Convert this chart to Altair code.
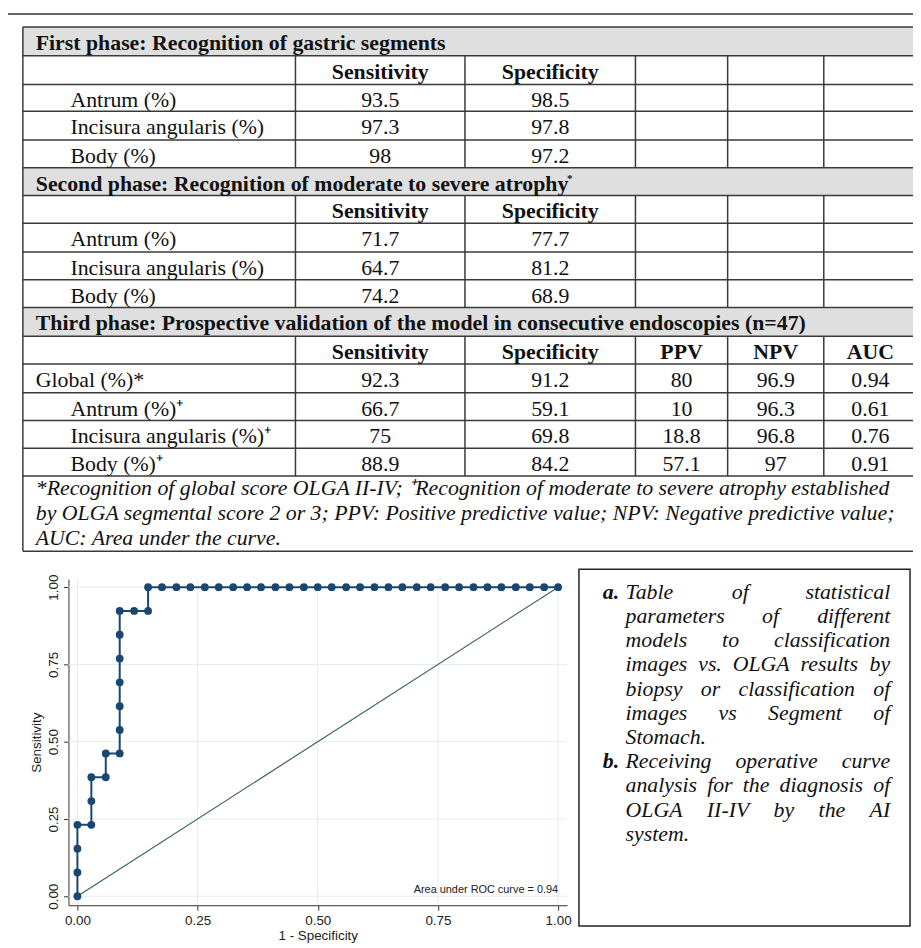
import altair as alt
import pandas as pd

# ---------------- data ----------------
phase_titles = [
    "First phase: Recognition of gastric segments",
    "Second phase: Recognition of moderate to severe atrophy",
    "Third phase: Prospective validation of the model in consecutive endoscopies (n=47)",
]
metric_names = ["Sensitivity", "Specificity", "PPV", "NPV", "AUC"]
segments = ["Antrum (%)", "Incisura angularis (%)", "Body (%)"]
p1_sens = ["93.5", "97.3", "98"]
p1_spec = ["98.5", "97.8", "97.2"]
p2_sens = ["71.7", "64.7", "74.2"]
p2_spec = ["77.7", "81.2", "68.9"]
p3_labels = ["Global (%)*", "Antrum (%)\u207a", "Incisura angularis (%)\u207a", "Body (%)\u207a"]
p3_sens = ["92.3", "66.7", "75", "88.9"]
p3_spec = ["91.2", "59.1", "69.8", "84.2"]
p3_ppv = ["80", "10", "18.8", "57.1"]
p3_npv = ["96.9", "96.3", "96.8", "97"]
p3_auc = ["0.94", "0.61", "0.76", "0.91"]
footnote_lines = [
    "*Recognition of global score OLGA II-IV; \u207aRecognition of moderate to severe atrophy established",
    "by OLGA segmental score 2 or 3; PPV: Positive predictive value; NPV: Negative predictive value;",
    "AUC: Area under the curve.",
]
caption_lines = [
    "Table of statistical",
    "parameters of different",
    "models to classification",
    "images vs. OLGA results by",
    "biopsy or classification of",
    "images vs Segment of",
    "Stomach.",
    "Receiving operative curve",
    "analysis for the diagnosis of",
    "OLGA II-IV by the AI",
    "system.",
]
caption_markers = ["a.", "b."]
roc_fpr = [0.0, 0.0, 0.0, 0.0, 0.029, 0.029, 0.029, 0.059, 0.059, 0.088, 0.088, 0.088,
           0.088, 0.088, 0.088, 0.088, 0.118, 0.147, 0.147, 0.176, 0.206, 0.235, 0.265,
           0.294, 0.324, 0.353, 0.382, 0.412, 0.441, 0.471, 0.500, 0.529, 0.559, 0.588,
           0.618, 0.647, 0.676, 0.706, 0.735, 0.765, 0.794, 0.824, 0.853, 0.882, 0.912,
           0.941, 0.971, 1.000]
roc_tpr = [0.0, 0.077, 0.154, 0.231, 0.231, 0.308, 0.385, 0.385, 0.462, 0.462, 0.538, 0.615,
           0.692, 0.769, 0.846, 0.923, 0.923, 0.923, 1.0, 1.0, 1.0, 1.0, 1.0,
           1.0, 1.0, 1.0, 1.0, 1.0, 1.0, 1.0, 1.0, 1.0, 1.0, 1.0,
           1.0, 1.0, 1.0, 1.0, 1.0, 1.0, 1.0, 1.0, 1.0, 1.0, 1.0,
           1.0, 1.0, 1.0]
diag = [0.0, 1.0]
roc_ticks = [0.0, 0.25, 0.5, 0.75, 1.0]
auc_text = "Area under ROC curve = 0.94"

# ---------------- layout (page pixels) ----------------
W, H = 913, 940
M = 8
SERIF = "Liberation Serif, Times New Roman, serif"
SANS = "Liberation Sans, Arial, sans-serif"
FS = 22
COLS = [23, 298, 469, 641, 734, 831, 921]
COL_CENTERS = [383.5, 555, 687.5, 782.5, 878]
ROWS = [23, 52, 81, 108, 137, 165, 193, 221, 250, 278, 306, 335, 363, 392, 420, 448, 476]
HEADER_ROWS = [0, 5, 10]
FOOT_BOTTOM = 552
LINE = "#3a3a3a"

PX = alt.Scale(domain=[0, W], range=[0, W], nice=False, zero=False)
PY = alt.Scale(domain=[0, H], range=[0, H], nice=False, zero=False)


def cx(v):
    return v - M


def cy(v):
    return v - M


def rule_layer(recs, color=LINE, width=1.5):
    df = pd.DataFrame(recs, columns=["x", "x2", "y", "y2"])
    return alt.Chart(df).mark_rule(color=color, strokeWidth=width).encode(
        x=alt.X("x:Q", scale=PX, axis=None), x2="x2:Q",
        y=alt.Y("y:Q", scale=PY, axis=None), y2="y2:Q")


def text_layer(recs, **mark):
    df = pd.DataFrame(recs, columns=["x", "y", "t"])
    return alt.Chart(df).mark_text(baseline="alphabetic", color="#111", **mark).encode(
        x=alt.X("x:Q", scale=PX, axis=None),
        y=alt.Y("y:Q", scale=PY, axis=None),
        text="t:N")


# gray header bands
bands = pd.DataFrame([[cx(COLS[0]), cx(COLS[-1]), cy(ROWS[r]), cy(ROWS[r + 1])] for r in HEADER_ROWS],
                     columns=["x", "x2", "y", "y2"])
band_layer = alt.Chart(bands).mark_rect(color="#dfdfdf").encode(
    x=alt.X("x:Q", scale=PX, axis=None), x2="x2:Q",
    y=alt.Y("y:Q", scale=PY, axis=None), y2="y2:Q")

# lines
h_lines = [[cx(COLS[0]), cx(COLS[-1]), cy(r), cy(r)] for r in ROWS]
h_lines.append([cx(COLS[0]), cx(COLS[-1]), cy(FOOT_BOTTOM), cy(FOOT_BOTTOM)])
v_lines = [[cx(COLS[0]), cx(COLS[0]), cy(ROWS[0]), cy(FOOT_BOTTOM)]]
for r in range(len(ROWS) - 1):
    if r in HEADER_ROWS:
        continue
    for c in COLS[1:-1]:
        v_lines.append([cx(c), cx(c), cy(ROWS[r]), cy(ROWS[r + 1])])
frame_lines = [[cx(7), cx(921), cy(10), cy(10)], [cx(7), cx(7), cy(10), cy(948)]]

# texts
BL = 23
bold_left = [[cx(36), cy(ROWS[r] + BL), t] for r, t in zip(HEADER_ROWS, phase_titles)]
bold_center = []
for r, n in [(1, 2), (6, 2), (11, 5)]:
    for k in range(n):
        bold_center.append([cx(COL_CENTERS[k]), cy(ROWS[r] + BL), metric_names[k]])
reg_left = []
reg_center = []
for base, sens, spec in [(2, p1_sens, p1_spec), (7, p2_sens, p2_spec)]:
    for i, lab in enumerate(segments):
        reg_left.append([cx(71), cy(ROWS[base + i] + BL), lab])
        reg_center.append([cx(COL_CENTERS[0]), cy(ROWS[base + i] + BL), sens[i]])
        reg_center.append([cx(COL_CENTERS[1]), cy(ROWS[base + i] + BL), spec[i]])
for i, lab in enumerate(p3_labels):
    reg_left.append([cx(36 if i == 0 else 71), cy(ROWS[12 + i] + BL), lab])
    for k, col in enumerate([p3_sens, p3_spec, p3_ppv, p3_npv, p3_auc]):
        reg_center.append([cx(COL_CENTERS[k]), cy(ROWS[12 + i] + BL), col[i]])

italic_left = [[cx(36), cy(b), t] for b, t in zip([495, 520.5, 546], footnote_lines)]

TI = {" ": 250, ".": 250, "-": 333, ",": 250, "I": 333, "V": 611, "O": 722, "L": 556,
      "G": 722, "A": 611, "S": 500, "T": 556, "R": 611, "a": 500, "b": 500, "c": 444,
      "d": 500, "e": 444, "f": 278, "g": 500, "h": 500, "i": 278, "l": 278, "m": 722,
      "n": 500, "o": 500, "p": 500, "r": 389, "s": 389, "t": 278, "u": 500, "v": 444,
      "y": 444}


def tw(s):
    return sum(TI.get(ch, 500) for ch in s) * FS / 1000.0


italic_right = []
X0, X1 = 631, 898
LS = 24.4
for li, line in enumerate(caption_lines):
    base = 600 + LS * li
    words = line.split()
    if line in ("Stomach.", "system.") or len(words) == 1:
        italic_left.append([cx(X0), cy(base), line])
        continue
    gap = (X1 - X0 - sum(tw(w) for w in words)) / (len(words) - 1)
    xpos = X0
    for wi, w in enumerate(words):
        if wi == len(words) - 1:
            italic_right.append([cx(X1), cy(base), w])
        else:
            italic_left.append([cx(xpos), cy(base), w])
        xpos += tw(w) + gap
bold_italic = [[cx(608), cy(600), caption_markers[0]], [cx(608), cy(600 + LS * 7), caption_markers[1]]]
superscript = [[cx(572), cy(179), "*"]]

box = pd.DataFrame([[cx(584), cx(918), cy(570), cy(930)]], columns=["x", "x2", "y", "y2"])
box_layer = alt.Chart(box).mark_rect(fill="white", stroke="#222", strokeWidth=1.5).encode(
    x=alt.X("x:Q", scale=PX, axis=None), x2="x2:Q",
    y=alt.Y("y:Q", scale=PY, axis=None), y2="y2:Q")

table = alt.layer(
    band_layer,
    rule_layer(h_lines),
    rule_layer(v_lines),
    rule_layer(frame_lines, color="#333", width=1.5),
    box_layer,
    text_layer(bold_left, font=SERIF, fontSize=FS, fontWeight="bold", align="left"),
    text_layer(bold_center, font=SERIF, fontSize=FS, fontWeight="bold", align="center"),
    text_layer(reg_left, font=SERIF, fontSize=FS, align="left"),
    text_layer(reg_center, font=SERIF, fontSize=FS, align="center"),
    text_layer(italic_left, font=SERIF, fontSize=FS, fontStyle="italic", align="left"),
    text_layer(italic_right, font=SERIF, fontSize=FS, fontStyle="italic", align="right"),
    text_layer(bold_italic, font=SERIF, fontSize=FS, fontStyle="italic", fontWeight="bold", align="left"),
    text_layer(superscript, font=SERIF, fontSize=11, fontWeight="bold", align="left"),
)

# ---------------- ROC chart ----------------
XD = [-0.0186, 1.0186]
YD = [-0.029, 1.026]
xsc = alt.Scale(domain=XD, range=[cx(69), cx(572)], nice=False, zero=False)
ysc = alt.Scale(domain=YD, range=[cy(909), cy(580)], nice=False, zero=False)
axis_common = dict(values=roc_ticks, format=".2f", grid=False, domainColor="#333",
                   tickColor="#333", tickSize=5, labelFont=SANS, labelFontSize=13.5,
                   labelColor="#222", titleFont=SANS, titleFontSize=13.5,
                   titleFontWeight="normal", titleColor="#222")
xaxis = alt.Axis(orient="bottom", offset=cy(909) - H, title="1 - Specificity",
                 labelPadding=3, titlePadding=2, **axis_common)
yaxis = alt.Axis(orient="left", offset=-cx(69), title="Sensitivity", labelAngle=270,
                 labelAlign="center", labelBaseline="bottom", labelPadding=3,
                 titlePadding=3, **axis_common)

roc_df = pd.DataFrame({"fpr": roc_fpr, "tpr": roc_tpr, "i": list(range(len(roc_fpr)))})
vgrid = pd.DataFrame({"g": roc_ticks, "lo": [YD[0]] * 5, "hi": [YD[1]] * 5})
hgrid = pd.DataFrame({"g": roc_ticks, "lo": [XD[0]] * 5, "hi": [XD[1]] * 5})
diag_df = pd.DataFrame({"fpr": diag, "tpr": diag})
ann_df = pd.DataFrame({"fpr": [1.0], "tpr": [0.02], "t": [auc_text]})

GRID = "#e4ecee"


def RX(field):
    return alt.X(field, scale=xsc, axis=xaxis)


def RY(field):
    return alt.Y(field, scale=ysc, axis=yaxis)


roc = alt.layer(
    alt.Chart(vgrid).mark_rule(color=GRID, strokeWidth=1).encode(
        x=RX("g:Q"), y=RY("lo:Q"), y2="hi:Q"),
    alt.Chart(hgrid).mark_rule(color=GRID, strokeWidth=1).encode(
        y=RY("g:Q"), x=RX("lo:Q"), x2="hi:Q"),
    alt.Chart(diag_df).mark_line(color="#3b625f", strokeWidth=1.2).encode(
        x=RX("fpr:Q"), y=RY("tpr:Q")),
    alt.Chart(roc_df).mark_line(color="#1a476f", strokeWidth=2).encode(
        x=RX("fpr:Q"), y=RY("tpr:Q"), order="i:Q"),
    alt.Chart(roc_df).mark_circle(color="#1a476f", size=62, opacity=1).encode(
        x=RX("fpr:Q"), y=RY("tpr:Q")),
    alt.Chart(ann_df).mark_text(font=SANS, fontSize=11, align="right", baseline="middle",
                                color="#222").encode(
        x=RX("fpr:Q"), y=RY("tpr:Q"), text="t:N"),
)

chart = alt.layer(table, roc).resolve_scale(x="independent", y="independent").resolve_axis(
    x="independent", y="independent").properties(
    width=W, height=H, padding=0, autosize=alt.AutoSizeParams(type="none"),
    background="white").configure_view(strokeWidth=0)

chart.save("out.html", embed_options={"renderer": "svg", "actions": False})
